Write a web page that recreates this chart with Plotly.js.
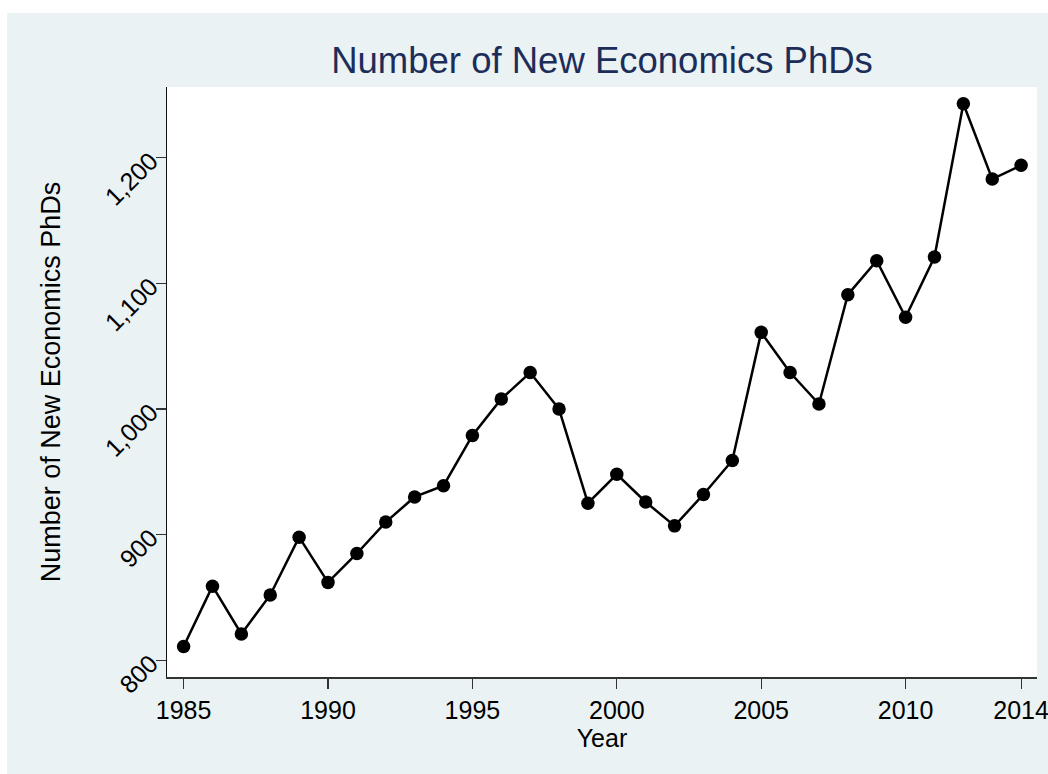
<!DOCTYPE html>
<html>
<head>
<meta charset="utf-8">
<script src="https://cdn.plot.ly/plotly-3.0.1.min.js"></script>
<style>
  html, body { margin: 0; padding: 0; background: #ffffff; width: 1048px; height: 774px; overflow: hidden; }
  #chart { position: absolute; left: 7px; top: 13px; width: 1041px; height: 761px; }
</style>
</head>
<body>
<div id="chart"></div>
<script>
const years = [1985, 1986, 1987, 1988, 1989, 1990, 1991, 1992, 1993, 1994,
               1995, 1996, 1997, 1998, 1999, 2000, 2001, 2002, 2003, 2004,
               2005, 2006, 2007, 2008, 2009, 2010, 2011, 2012, 2013, 2014];
const phds = [811, 859, 821, 852, 898, 862, 885, 910, 930, 939,
              979, 1008, 1029, 1000, 925, 948, 926, 907, 932, 959,
              1061, 1029, 1004, 1091, 1118, 1073, 1121, 1243, 1183, 1194];
const xTickVals = [1985, 1990, 1995, 2000, 2005, 2010, 2014];
const yTickVals = [800, 900, 1000, 1100, 1200];

const FONT = "Liberation Sans, Arial, Helvetica, sans-serif";

const trace = {
  x: years,
  y: phds,
  type: "scatter",
  mode: "lines+markers",
  line: { color: "#000000", width: 2.5 },
  marker: { color: "#000000", size: 13.5 },
  showlegend: false
};

const layout = {
  width: 1041,
  height: 761,
  paper_bgcolor: "#EAF2F3",
  plot_bgcolor: "#FFFFFF",
  margin: { l: 160, r: 11, t: 74, b: 97, pad: 0 },
  font: { family: FONT, color: "#000000" },
  title: {
    text: "Number of New Economics PhDs",
    font: { family: FONT, size: 36.5, color: "#1c2d5a" },
    x: 0.5, xanchor: "center", xref: "paper",
    y: 0.938, yanchor: "middle", yref: "container"
  },
  xaxis: {
    range: [1984.425, 2014.55],
    tickvals: xTickVals,
    ticktext: xTickVals.map(String),
    ticklabeloverflow: "allow",
    ticks: "outside", ticklen: 10, tickwidth: 1.2, tickcolor: "#333333",
    showgrid: false, zeroline: false,
    showline: true, linecolor: "#333333", linewidth: 1.5, mirror: false,
    tickfont: { family: FONT, size: 25, color: "#000000" },
    title: { text: "Year", font: { family: FONT, size: 25, color: "#000000" }, standoff: 0 }
  },
  yaxis: {
    range: [786.7, 1256.3],
    tickvals: yTickVals,
    tickformat: ",",
    tickangle: -45,
    ticks: "outside", ticklen: 10, tickwidth: 1.2, tickcolor: "#333333",
    showgrid: false, zeroline: false,
    showline: true, linecolor: "#111111", linewidth: 1.2, mirror: false,
    tickfont: { family: FONT, size: 25, color: "#000000" },
    title: { text: "Number of New Economics PhDs", font: { family: FONT, size: 27, color: "#000000" }, standoff: 30 }
  }
};

Plotly.newPlot("chart", [trace], layout, { displayModeBar: false, staticPlot: true });
</script>
</body>
</html>
